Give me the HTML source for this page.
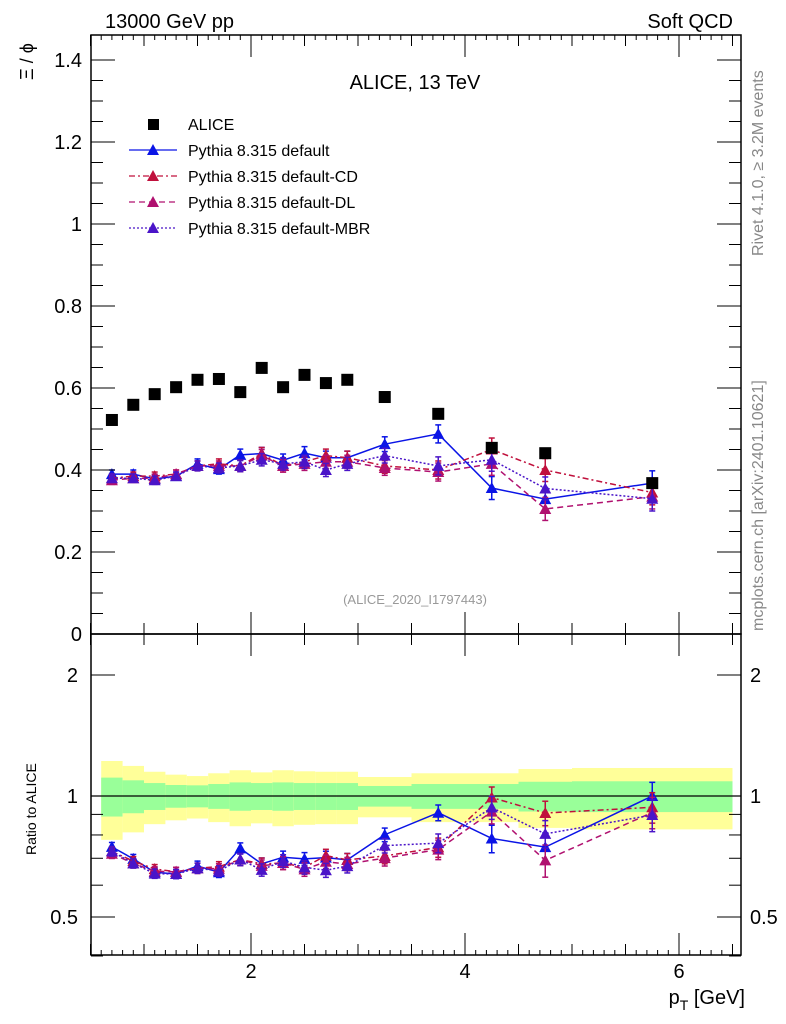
<!DOCTYPE html>
<html><head><meta charset="utf-8">
<style>
html,body{margin:0;padding:0;background:#fff;}
svg{display:block;font-family:"Liberation Sans",sans-serif;}
</style></head>
<body>
<svg id="chart" width="786" height="1024" viewBox="0 0 786 1024" xmlns="http://www.w3.org/2000/svg">
<g id="bands"></g>
<g id="marks"></g>
<g id="axes"></g>
<text x="105" y="28" font-size="20">13000 GeV pp</text>
<text x="733" y="28" font-size="20" text-anchor="end">Soft QCD</text>
<text x="415" y="89" font-size="20" text-anchor="middle">ALICE, 13 TeV</text>
<text transform="translate(33,80) rotate(-90)" font-size="18">Ξ / ϕ</text>
<text transform="translate(36,855) rotate(-90)" font-size="14">Ratio to ALICE</text>
<text x="745" y="1004" font-size="20" text-anchor="end">p<tspan font-size="14" dy="6">T</tspan><tspan dy="-6"> [GeV]</tspan></text>
<text transform="translate(763,256) rotate(-90)" font-size="16" fill="#888">Rivet 4.1.0, ≥ 3.2M events</text>
<text transform="translate(763,631) rotate(-90)" font-size="16" fill="#888">mcplots.cern.ch [arXiv:2401.10621]</text>
<text x="415" y="604" font-size="13" fill="#999" text-anchor="middle">(ALICE_2020_I1797443)</text>
<g id="legend"></g>
</svg>
<script>
const binLo = [0.6,0.8,1.0,1.2,1.4,1.6,1.8,2.0,2.2,2.4,2.6,2.8,3.0,3.5,4.0,4.5,5.0];
const binHi = [0.8,1.0,1.2,1.4,1.6,1.8,2.0,2.2,2.4,2.6,2.8,3.0,3.5,4.0,4.5,5.0,6.5];
const xPts = [0.7,0.9,1.1,1.3,1.5,1.7,1.9,2.1,2.3,2.5,2.7,2.9,3.25,3.75,4.25,4.75,5.75];
const alice = [0.522,0.559,0.585,0.602,0.620,0.622,0.590,0.649,0.602,0.632,0.612,0.620,0.578,0.537,0.454,0.441,0.368];
const aliceTot = [0.222,0.188,0.149,0.130,0.121,0.139,0.159,0.145,0.159,0.152,0.149,0.149,0.115,0.139,0.139,0.167,0.174];
const aliceStat = [0.111,0.094,0.077,0.065,0.063,0.071,0.081,0.077,0.081,0.077,0.077,0.077,0.059,0.071,0.071,0.085,0.088];
const pDefault = [0.390,0.390,0.378,0.385,0.415,0.402,0.437,0.440,0.424,0.441,0.430,0.430,0.463,0.488,0.356,0.329,0.368];
const pCD = [0.380,0.385,0.385,0.390,0.410,0.415,0.410,0.440,0.410,0.420,0.435,0.430,0.410,0.400,0.450,0.400,0.345];
const pDL = [0.375,0.380,0.380,0.390,0.410,0.410,0.410,0.435,0.410,0.415,0.420,0.420,0.405,0.395,0.415,0.305,0.335];
const pMBR = [0.380,0.380,0.375,0.385,0.410,0.405,0.410,0.425,0.415,0.420,0.400,0.415,0.435,0.410,0.425,0.355,0.330];
const mcErr = [0.010,0.010,0.010,0.010,0.012,0.012,0.014,0.015,0.015,0.016,0.016,0.016,0.018,0.022,0.028,0.028,0.030];
const mainTicks = [0,0.2,0.4,0.6,0.8,1,1.2,1.4];
const mainTickLabels = ["0","0.2","0.4","0.6","0.8","1","1.2","1.4"];
const xTicks = [2,4,6];
const xTickLabels = ["2","4","6"];
const ratioTicks = [0.5,1,2];
const ratioTickLabels = ["0.5","1","2"];

const NS="http://www.w3.org/2000/svg";
const L=91,R=741,T=35,M=634,B=955;
const X=v=>37+107*v;
const Y=v=>634-410*v;
const YR=v=>796-402*Math.log10(v);
function mk(tag,attrs,parent){const e=document.createElementNS(NS,tag);for(const k in attrs)e.setAttribute(k,attrs[k]);parent.appendChild(e);return e;}
const axes=document.getElementById('axes'),marks=document.getElementById('marks'),bands=document.getElementById('bands'),leg=document.getElementById('legend');

for(let i=0;i<binLo.length;i++){
  const x1=X(binLo[i]),x2=X(binHi[i]);
  let r=mk('rect',{x:x1,y:YR(1+aliceTot[i]),width:x2-x1,height:YR(1-aliceTot[i])-YR(1+aliceTot[i]),fill:'#ffff99'},bands);
  
  
  r=mk('rect',{x:x1,y:YR(1+aliceStat[i]),width:x2-x1,height:YR(1-aliceStat[i])-YR(1+aliceStat[i]),fill:'#99ff99'},bands);
  
  
}
let one=mk('line',{x1:L,x2:R,y1:YR(1),y2:YR(1),stroke:'#000','stroke-width':1.2},bands);



let f1=mk('rect',{x:L,y:T,width:R-L,height:M-T,fill:'none',stroke:'#000','stroke-width':1.5},axes);


let f2=mk('rect',{x:L,y:M,width:R-L,height:B-M,fill:'none',stroke:'#000','stroke-width':1.5},axes);



for(let v=0;v<=1.45;v+=0.05){
  const major=Math.abs(v/0.2-Math.round(v/0.2))<1e-6;
  const len=major?24:12,y=Y(v);
  mk('line',{x1:L,x2:L+len,y1:y,y2:y,stroke:'#000'},axes);
  mk('line',{x1:R,x2:R-len,y1:y,y2:y,stroke:'#000'},axes);
}
mainTicks.forEach((v,i)=>{
  const t=mk('text',{x:82,y:Y(v)+7,'font-size':20,'text-anchor':'end'},axes);
  t.textContent=mainTickLabels[i];
  
  
});
for(let v=0.5;v<=6.5;v+=0.5){
  const major=Math.abs(v-Math.round(v/2)*2)<1e-6;
  const len=major?22:11,x=X(v);
  [[T,1],[M,-1],[M,1],[B,-1]].forEach(([y0,d])=>mk('line',{x1:x,x2:x,y1:y0,y2:y0+d*len,stroke:'#000'},axes));
}
for(let v=0.6;v<=6.55;v+=0.1){const x=X(v);mk('line',{x1:x,x2:x,y1:B,y2:B-5,stroke:'#000'},axes);mk('line',{x1:x,x2:x,y1:T,y2:T+5,stroke:'#000'},axes);}
xTicks.forEach((v,i)=>{
  const t=mk('text',{x:X(v),y:978,'font-size':20,'text-anchor':'middle'},axes);
  t.textContent=xTickLabels[i];
  
  
});
[0.4,0.5,0.6,0.7,0.8,0.9,1,2].forEach(v=>{
  const major=(v===0.5||v===1||v===2),len=major?24:12,y=YR(v);
  mk('line',{x1:L,x2:L+len,y1:y,y2:y,stroke:'#000'},axes);
  mk('line',{x1:R,x2:R-len,y1:y,y2:y,stroke:'#000'},axes);
});
ratioTicks.forEach((v,i)=>{
  let t=mk('text',{x:78,y:YR(v)+7,'font-size':20,'text-anchor':'end'},axes);
  t.textContent=ratioTickLabels[i];
  
  
  t=mk('text',{x:750,y:YR(v)+7,'font-size':20},axes);
  t.textContent=ratioTickLabels[i];
  
  
});

const series=[
 {name:'pythia-default',vals:pDefault,col:'#0a14e6',dash:'none'},
 {name:'pythia-default-cd',vals:pCD,col:'#c0103c',dash:'6,3,2,3'},
 {name:'pythia-default-dl',vals:pDL,col:'#b0106f',dash:'6,4'},
 {name:'pythia-default-mbr',vals:pMBR,col:'#4a14c8',dash:'2,2'}
];
function tri(g,x,y,col){mk('path',{d:`M${x},${y-6}L${x+6},${y+5}L${x-6},${y+5}Z`,fill:col},g);}
series.forEach(s=>{
  ['main','ratio'].forEach(panel=>{
    const g=mk('g',{},marks);
    
    
    const yf=panel==='main'?(i=>Y(s.vals[i])):(i=>YR(s.vals[i]/alice[i]));
    const ef=panel==='main'?(i=>[Y(s.vals[i]-mcErr[i]),Y(s.vals[i]+mcErr[i])]):(i=>[YR((s.vals[i]-mcErr[i])/alice[i]),YR((s.vals[i]+mcErr[i])/alice[i])]);
    const pts=xPts.map((x,i)=>X(x)+','+yf(i)).join(' ');
    mk('polyline',{points:pts,fill:'none',stroke:s.col,'stroke-width':1.5,'stroke-dasharray':s.dash},g);
    xPts.forEach((x,i)=>{
      const [a,b]=ef(i),px=X(x);
      mk('line',{x1:px,x2:px,y1:a,y2:b,stroke:s.col,'stroke-width':1.5},g);
      mk('line',{x1:px-3,x2:px+3,y1:a,y2:a,stroke:s.col,'stroke-width':1.5},g);
      mk('line',{x1:px-3,x2:px+3,y1:b,y2:b,stroke:s.col,'stroke-width':1.5},g);
      tri(g,px,yf(i),s.col);
    });
  });
});
const ga=mk('g',{},marks);


xPts.forEach((x,i)=>{mk('rect',{x:X(x)-6,y:Y(alice[i])-6,width:12,height:12,fill:'#000'},ga);});

const legItems=[['ALICE',null],['Pythia 8.315 default',series[0]],['Pythia 8.315 default-CD',series[1]],['Pythia 8.315 default-DL',series[2]],['Pythia 8.315 default-MBR',series[3]]];
legItems.forEach((it,k)=>{
  const y=124+26*k;
  const g=mk('g',{},leg);
  
  
  if(!it[1]) mk('rect',{x:148,y:y-5,width:11,height:11,fill:'#000'},g);
  else{mk('line',{x1:129,x2:177,y1:y,y2:y,stroke:it[1].col,'stroke-width':1.3,'stroke-dasharray':it[1].dash},g);tri(g,153,y,it[1].col);}
  const t=mk('text',{x:188,y:y+6,'font-size':16},g);
  t.textContent=it[0];
});
</script>
</body></html>
